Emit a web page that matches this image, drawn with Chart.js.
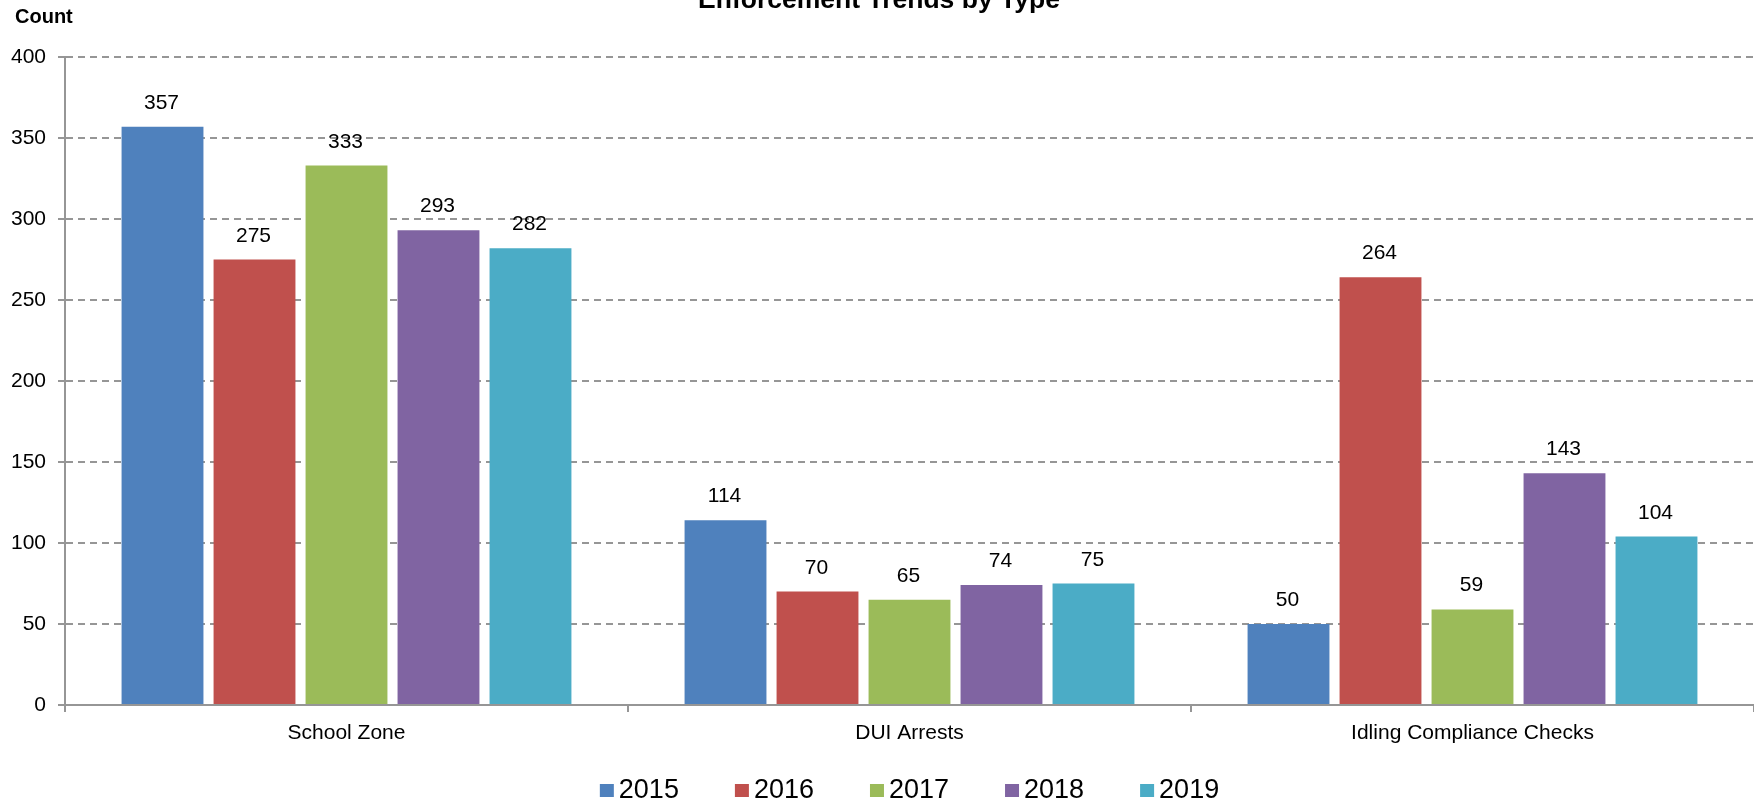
<!DOCTYPE html>
<html>
<head>
<meta charset="utf-8">
<script src="https://cdn.jsdelivr.net/npm/chart.js@4"></script>
<style>
  html, body { margin: 0; padding: 0; background: #fff; }
  #wrap { width: 1754px; height: 804px; }
</style>
</head>
<body>
<div id="wrap"><canvas id="enforcementChart" width="1754" height="804"></canvas></div>
<script>
// === Data ===
const categories = ['School Zone', 'DUI Arrests', 'Idling Compliance Checks'];
const years = ['2015', '2016', '2017', '2018', '2019'];
const values2015 = [357, 114, 50];
const values2016 = [275, 70, 264];
const values2017 = [333, 65, 59];
const values2018 = [293, 74, 143];
const values2019 = [282, 75, 104];
const yTicks = [0, 50, 100, 150, 200, 250, 300, 350, 400];

const colors = ['#4F81BD', '#C0504D', '#9BBB59', '#8064A2', '#4BACC6'];
const seriesValues = [values2015, values2016, values2017, values2018, values2019];
const FONT = 'Liberation Sans, Arial, Helvetica, sans-serif';
const GRID = '#969696';

// value labels above bars
const barLabels = {
  id: 'barLabels',
  afterDatasetsDraw(chart) {
    const ctx = chart.ctx;
    ctx.save();
    ctx.font = '21px ' + FONT;
    ctx.fillStyle = '#000';
    ctx.textAlign = 'center';
    ctx.textBaseline = 'alphabetic';
    chart.data.datasets.forEach((ds, i) => {
      chart.getDatasetMeta(i).data.forEach((bar, j) => {
        ctx.fillText(String(ds.data[j]), bar.x - 1, bar.y - 18);
      });
    });
    ctx.restore();
  }
};

// title, axis caption and legend
const extras = {
  id: 'extras',
  afterDraw(chart) {
    const ctx = chart.ctx;
    const area = chart.chartArea;
    ctx.save();
    ctx.fillStyle = '#000';
    ctx.textBaseline = 'alphabetic';

    ctx.font = 'bold 26.5px ' + FONT;
    ctx.textAlign = 'center';
    ctx.fillText('Enforcement Trends by Type', 879, 8);

    ctx.font = 'bold 20px ' + FONT;
    ctx.textAlign = 'left';
    ctx.fillText('Count', 15, 23);

    // legend
    ctx.font = '27px ' + FONT;
    const box = 14, gap = 5, spacing = 56;
    const items = chart.data.datasets.map(ds => ({
      label: ds.label, color: ds.backgroundColor, w: box + gap + ctx.measureText(ds.label).width
    }));
    const total = items.reduce((s, it) => s + it.w, 0) + spacing * (items.length - 1);
    let x = (area.left + area.right) / 2 - total / 2;
    items.forEach(it => {
      ctx.fillStyle = it.color;
      ctx.fillRect(x, 784, box, 13);
      ctx.fillStyle = '#000';
      ctx.fillText(it.label, x + box + gap, 798);
      x += it.w + spacing;
    });
    ctx.restore();
  }
};

new Chart(document.getElementById('enforcementChart'), {
  type: 'bar',
  data: {
    labels: categories,
    datasets: years.map((y, i) => ({
      label: y,
      data: seriesValues[i],
      backgroundColor: colors[i],
      categoryPercentage: 0.817,
      barPercentage: 0.89
    }))
  },
  options: {
    responsive: false,
    animation: false,
    layout: { padding: { top: 57, right: 0, bottom: 60, left: 0 } },
    plugins: {
      legend: { display: false },
      tooltip: { enabled: false }
    },
    scales: {
      x: {
        offset: true,
        grid: { drawOnChartArea: false, drawTicks: true, tickLength: 7, color: GRID, lineWidth: 2 },
        border: { color: GRID, width: 2 },
        ticks: { color: '#000', font: { family: FONT, size: 21 }, padding: 9, maxRotation: 0 },
        afterFit(scale) { scale.height = 39; }
      },
      y: {
        min: 0,
        max: 400,
        afterBuildTicks(scale) { scale.ticks = yTicks.map(v => ({ value: v })); },
        grid: { color: GRID, lineWidth: 2, tickLength: 7 },
        border: { color: GRID, width: 2, dash: [7, 5] },
        ticks: { color: '#000', font: { family: FONT, size: 21 }, padding: 12 },
        afterFit(scale) { scale.width = 65; }
      }
    }
  },
  plugins: [barLabels, extras]
});
</script>
</body>
</html>
